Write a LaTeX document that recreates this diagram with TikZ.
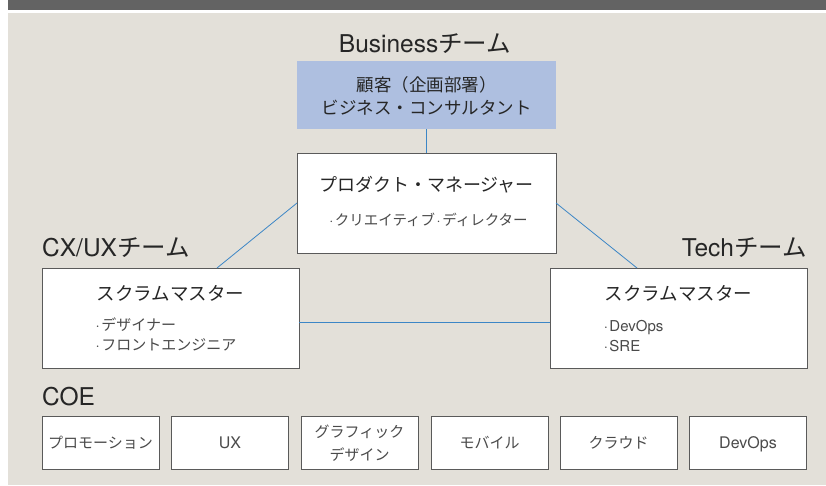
\documentclass[tikz,border=0pt]{standalone}
\usepackage{fontspec}
\setmainfont{Noto Sans CJK JP}
\newfontfamily\lat{TeX Gyre Heros}
\usetikzlibrary{calc}
\definecolor{bgbeige}{HTML}{E3E0D9}
\definecolor{topbar}{HTML}{636363}
\definecolor{boxline}{HTML}{5A5A5A}
\definecolor{blueboxfill}{HTML}{AEBFE0}
\definecolor{connblue}{HTML}{3C86C6}
\definecolor{titletext}{HTML}{262626}
\definecolor{itemtext}{HTML}{4A4A4A}
\newcommand{\idot}{{\lat ·}\hspace{1.5pt}}
\newcommand{\mdot}{\hspace{1.5pt}{\lat ·}\hspace{1.5pt}}
\begin{document}
\begin{tikzpicture}[x=1pt,y=-1pt,
  box/.style={draw=boxline, line width=0.9pt, fill=white, inner sep=0pt, outer sep=0pt},
  bluebox/.style={fill=blueboxfill, inner sep=0pt, outer sep=0pt, minimum width=259pt, minimum height=68pt},
  bigbox/.style={box, minimum width=257pt, minimum height=100pt},
  coebox/.style={box, minimum width=117pt, minimum height=53pt},
  conn/.style={draw=connblue, line width=0.8pt},
  teamlabel/.style={inner sep=0pt, text=titletext, font=\fontsize{24.5}{28}\selectfont},
  titletxt/.style={inner sep=0pt, anchor=base, text=titletext, font=\fontsize{18}{22}\selectfont},
  itemtxt/.style={inner sep=0pt, anchor=base west, text=itemtext, font=\fontsize{15}{18}\selectfont},
  coetxt/.style={inner sep=0pt, anchor=base, text=itemtext, font=\fontsize{15}{18}\selectfont}
]
\useasboundingbox (0,0) rectangle (826,485);
\fill[white] (0,0) rectangle (826,485);
\fill[topbar] (8,0) rectangle (826,10);
\fill[bgbeige] (8,13) rectangle (826,485);

% Business team
\node[teamlabel, anchor=base] (buslbl) at (425,52) {{\lat Business}チーム};
\node[bluebox] (cust) at (426.5,95) {};
\node[inner sep=0pt, anchor=base, text=titletext, font=\fontsize{17.5}{20}\selectfont] (cust1) at (426.5,91.7) {顧客（企画部署）};
\node[inner sep=0pt, anchor=base, text=titletext, font=\fontsize{17.5}{20}\selectfont] (cust2) at (426.5,114.7) {ビジネス・コンサルタント};

% Product manager
\node[box, minimum width=259pt, minimum height=100pt] (pm) at (426.5,203) {};
\node[titletxt] (pmt) at (426.5,191.8) {プロダクト・マネージャー};
\node[inner sep=0pt, anchor=base, text=itemtext, font=\fontsize{14.5}{17}\selectfont] (pms) at (428.5,225.3) {\idot クリエイティブ\mdot ディレクター};

% CX/UX team
\node[teamlabel, anchor=base west] (cxlbl) at (42,256) {{\lat CX/UX}チーム};
\node[bigbox] (ls) at (170.5,318) {};
\node[titletxt, font=\fontsize{18.5}{22}\selectfont] (lst) at (170.5,300) {スクラムマスター};
\node[itemtxt] (ls1) at (95.5,330.7) {\idot デザイナー};
\node[itemtxt] (ls2) at (95.5,350.7) {\idot フロントエンジニア};

% Tech team
\node[teamlabel, anchor=base east] (techlbl) at (807,256) {{\lat Tech}チーム};
\node[bigbox] (rs) at (678.5,318) {};
\node[titletxt, font=\fontsize{18.5}{22}\selectfont] (rst) at (678.5,300) {スクラムマスター};
\node[itemtxt] (rs1) at (603.6,331) {\idot{\lat DevOps}};
\node[itemtxt] (rs2) at (603.6,351.7) {\idot{\lat SRE}};

% connectors
\draw[conn] (cust.south) -- (pm.north);
\draw[conn] (pm.west) -- ([xshift=-82pt]ls.north east);
\draw[conn] (pm.east) -- ([xshift=87pt]rs.north west);
\draw[conn] ([yshift=-4pt]ls.east) -- ([yshift=-4pt]rs.west);

% COE
\node[teamlabel, anchor=base west] (coelbl) at (42,405) {\lat COE};
\node[coebox] (c1) at (100.5,442.5) {};
\node[coebox] (c2) at (230,442.5) {};
\node[coebox] (c3) at (359.5,442.5) {};
\node[coebox] (c4) at (489.5,442.5) {};
\node[coebox] (c5) at (618.5,442.5) {};
\node[coebox] (c6) at (748,442.5) {};
\node[coetxt] (c1t) at (100.5,448.2) {プロモーション};
\node[coetxt, font=\fontsize{16}{18}\selectfont] (c2t) at (230,448.2) {\lat UX};
\node[coetxt] (c3t1) at (359.5,437.7) {グラフィック};
\node[coetxt] (c3t2) at (359.5,460.7) {デザイン};
\node[coetxt] (c4t) at (489.5,448.2) {モバイル};
\node[coetxt] (c5t) at (618.5,448.2) {クラウド};
\node[coetxt, font=\fontsize{16}{18}\selectfont] (c6t) at (748,448.2) {\lat DevOps};
\end{tikzpicture}
\end{document}
